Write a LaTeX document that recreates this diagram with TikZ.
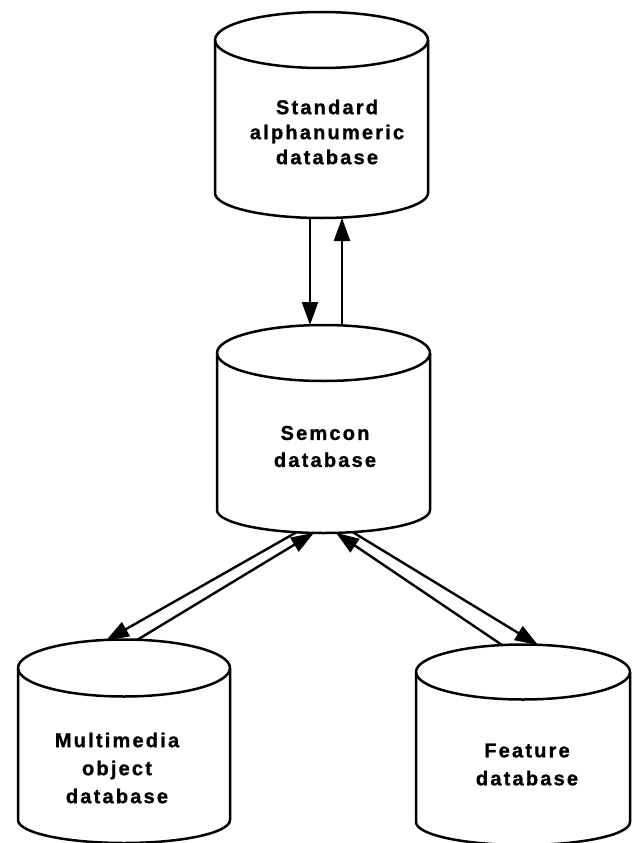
\documentclass[tikz,border=0pt]{standalone}
\usepackage{fontspec}
\newfontfamily\lblfont[LetterSpace=11,BoldFeatures={FakeBold=1.2}]{Liberation Sans}
\usetikzlibrary{arrows.meta}
\tikzset{
  cylline/.style={line width=2.5pt, line join=round},
  lbl/.style={font=\lblfont\bfseries\fontsize{20}{28}\selectfont, align=center, inner sep=0pt},
  flow/.style={line width=2.4pt, -{Triangle[length=23pt,width=16pt]}},
}
\begin{document}
\begin{tikzpicture}[x=1pt,y=-1pt]
\clip (0,0) rectangle (632,843);
\fill[white] (0,0) rectangle (632,843);
% Standard alphanumeric database
\draw[cylline] (215,40) -- (215,193) arc[start angle=180,end angle=360,x radius=106.5pt,y radius=25pt] -- (428,40);
\draw[cylline] (321.5,40) ellipse[x radius=106.5pt,y radius=28pt];
% Semcon database
\draw[cylline] (217,353) -- (217,510) arc[start angle=180,end angle=360,x radius=106.5pt,y radius=23pt] -- (430,353);
\draw[cylline] (323.5,353) ellipse[x radius=106.5pt,y radius=28pt];
% Multimedia object database
\draw[cylline] (18,668) -- (18,820) arc[start angle=180,end angle=360,x radius=106pt,y radius=23pt] -- (230,668);
\draw[cylline] (124,668) ellipse[x radius=106pt,y radius=28.5pt];
% Feature database
\draw[cylline] (416,672) -- (416,822) arc[start angle=180,end angle=360,x radius=107pt,y radius=23pt] -- (630,672);
\draw[cylline] (523,672) ellipse[x radius=107pt,y radius=27.5pt];
% labels
\node[lbl, font=\lblfont\bfseries\fontsize{20}{25}\selectfont] (std) at (327,132) {Standard\\alphanumeric\\database};
\node[lbl, font=\lblfont\bfseries\fontsize{20}{27}\selectfont] (semcon) at (325,446.5) {Semcon\\database};
\node[lbl] (mmo) at (117,768) {Multimedia\\object\\database};
\node[lbl] (feat) at (527,764.5) {Feature\\database};
% connector end points on the cylinder outlines
\coordinate (stdB1) at (310,218);
\coordinate (stdB2) at (342,218);
\coordinate (semT1) at (310,325);
\coordinate (semT2) at (342,325.5);
\coordinate (semB1) at (296,532.5);
\coordinate (semB2) at (314,532.8);
\coordinate (semB3) at (336,532.8);
\coordinate (semB4) at (353,532.3);
\coordinate (mmoT1) at (106,640.5);
\coordinate (mmoT2) at (137,640);
\coordinate (featT1) at (502,645);
\coordinate (featT2) at (538,645);
% connectors
\draw[flow] (stdB1) -- (semT1);
\draw[flow] (semT2) -- (stdB2);
\draw[flow] (semB1) -- (mmoT1);
\draw[flow] (mmoT2) -- (semB2);
\draw[flow] (featT1) -- (semB3);
\draw[flow] (semB4) -- (featT2);
\end{tikzpicture}
\end{document}
